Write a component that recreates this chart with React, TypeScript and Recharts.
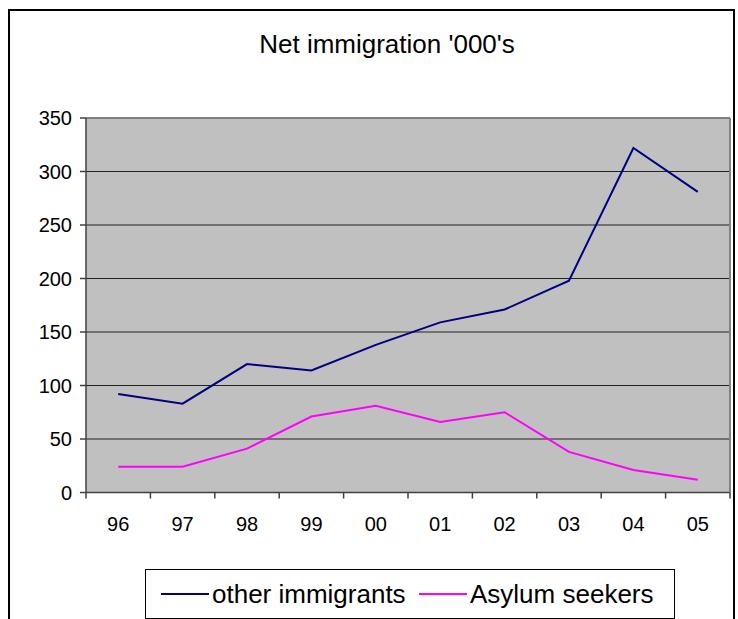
import React from 'react';
import { LineChart, Line, XAxis, YAxis, CartesianGrid, Legend, ReferenceLine } from 'recharts';

const FONT = '"Liberation Sans", Arial, sans-serif';

const years = ['96', '97', '98', '99', '00', '01', '02', '03', '04', '05'];
const otherImmigrants = [92, 83, 120, 114, 138, 159, 171, 198, 322, 281];
const asylumSeekers = [24, 24, 41, 71, 81, 66, 75, 38, 21, 12];
const yTicks = [0, 50, 100, 150, 200, 250, 300, 350];

const data = years.map((year, i) => ({
  year,
  other: otherImmigrants[i],
  asylum: asylumSeekers[i],
}));

// category labels sit in the middle, tick marks on the boundaries (Excel style)
function YearTick(props: any) {
  const { x, y, payload, index, width, visibleTicksCount } = props;
  const count = visibleTicksCount || years.length;
  const band = (width || 644) / count;
  const left = x - band / 2;
  const right = x + band / 2;
  return (
    <g>
      <line x1={left} y1={y} x2={left} y2={y + 6} stroke="#404040" strokeWidth={1.5} />
      {index === count - 1 && (
        <line x1={right} y1={y} x2={right} y2={y + 6} stroke="#404040" strokeWidth={1.5} />
      )}
      <text x={x} y={y + 31} textAnchor="middle" dominantBaseline="central" fontSize={20} fill="#000" fontFamily={FONT}>
        {payload.value}
      </text>
    </g>
  );
}

function LegendBox() {
  const item = (left: number, color: string, label: string) => (
    <div style={{ position: 'absolute', left, top: 0, height: '100%', display: 'flex', alignItems: 'center' }}>
      <div style={{ width: 48, height: 2, background: color, marginRight: 3 }} />
      <span style={{ fontSize: 26, color: '#000', whiteSpace: 'nowrap' }}>{label}</span>
    </div>
  );
  return (
    <div style={{ position: 'relative', width: 530, height: 50, border: '1px solid #000', boxSizing: 'border-box', background: '#fff', fontFamily: FONT }}>
      {item(15, '#000080', 'other immigrants')}
      {item(273, '#FF00FF', 'Asylum seekers')}
    </div>
  );
}

export default function App() {
  return (
    <div style={{ position: 'absolute', left: 0, top: 0, width: 738, height: 619, overflow: 'hidden', background: '#fff' }}>
      <div style={{ position: 'absolute', left: 8, top: 9, width: 727, height: 700, border: '2px solid #000', boxSizing: 'border-box' }} />
      <div style={{ position: 'absolute', left: 0, top: 29, width: 774, textAlign: 'center', fontFamily: FONT, fontSize: 26, color: '#000' }}>
        Net immigration '000's
      </div>
      <div style={{ position: 'absolute', left: 0, top: 0 }}>
        <LineChart width={738} height={619} data={data} margin={{ top: 118, right: 0, bottom: 86.5, left: 0 }}>
          <CartesianGrid horizontal vertical={false} fill="#C0C0C0" stroke="#222" strokeWidth={1} />
          <XAxis
            dataKey="year"
            scale="band"
            height={40}
            tickLine={false}
            tickSize={0}
            tickMargin={0}
            axisLine={{ stroke: '#404040', strokeWidth: 1.5 }}
            tick={<YearTick />}
            interval={0}
          />
          <YAxis
            width={86}
            domain={[0, 350]}
            ticks={yTicks}
            interval={0}
            tickSize={6}
            tickMargin={8}
            tickLine={{ stroke: '#404040', strokeWidth: 1.5 }}
            axisLine={{ stroke: '#404040', strokeWidth: 1.5 }}
            tick={{ fontSize: 20, fill: '#000', fontFamily: FONT }}
          />
          <YAxis
            yAxisId="frame"
            orientation="right"
            width={8}
            domain={[0, 350]}
            tick={false}
            tickLine={false}
            axisLine={{ stroke: '#808080', strokeWidth: 2 }}
          />
          <ReferenceLine y={350} stroke="#808080" strokeWidth={2} />
          <Line type="linear" dataKey="other" name="other immigrants" stroke="#000080" strokeWidth={2} dot={false} isAnimationActive={false} />
          <Line type="linear" dataKey="asylum" name="Asylum seekers" stroke="#FF00FF" strokeWidth={2} dot={false} isAnimationActive={false} />
          <Legend
            layout="horizontal"
            verticalAlign="middle"
            align="center"
            width={530}
            wrapperStyle={{ top: 569, left: 145, width: 530 }}
            content={<LegendBox />}
          />
        </LineChart>
      </div>
    </div>
  );
}
